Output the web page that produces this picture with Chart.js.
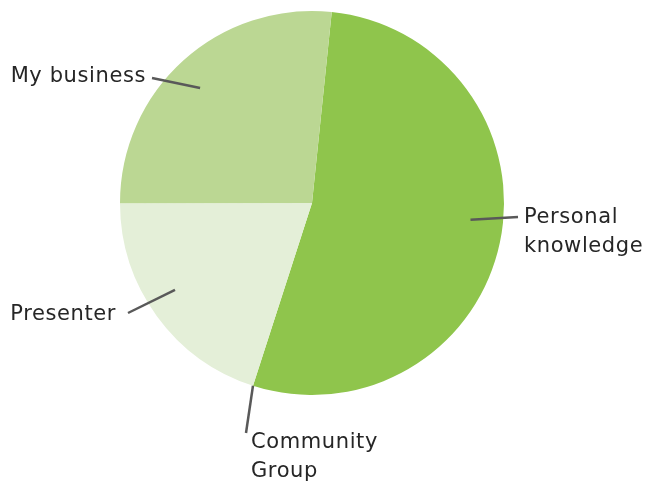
<!DOCTYPE html>
<html>
<head>
<meta charset="utf-8">
<script src="https://cdn.jsdelivr.net/npm/chart.js@4"></script>
<style>
  html, body { margin: 0; padding: 0; background: #fff; }
  #wrap { width: 657px; height: 484px; position: relative; }
</style>
</head>
<body>
<div id="wrap"><canvas id="pie"></canvas></div>
<script>
// slices in clockwise order, first one starts just right of 12 o'clock
const categories = ['Personal knowledge', 'Community Group', 'Presenter', 'My business'];
const counts = [8, 0, 3, 4];
const sliceColors = ['#8fc54c', '#8fc54c', '#e4efd8', '#bbd793'];

// label placement: leader start (degrees clockwise from top, fraction of radius),
// leader end and text anchor as offsets from the pie centre
const labelLayout = [
  { lines: ['Personal', 'knowledge'], at: [96, 0.83], end: [206, 14], text: [212, 15], align: 'left' },
  { lines: ['Community', 'Group'], at: null, end: [-66, 230], text: [-61, 240], align: 'left' },
  { lines: ['Presenter'], at: [237.6, 0.845], end: [-184, 110], text: [-196, 112], align: 'right' },
  { lines: ['My business'], at: [315.8, 0.836], end: [-160, -125], text: [-166, -126], align: 'right' }
];

const leaderLabels = {
  id: 'leaderLabels',
  afterDatasetsDraw(chart) {
    const ctx = chart.ctx;
    const arcs = chart.getDatasetMeta(0).data;
    ctx.save();
    ctx.font = '21px "DejaVu Sans", sans-serif';
    ctx.letterSpacing = '0.6px';
    ctx.textBaseline = 'middle';
    labelLayout.forEach((lab, i) => {
      const arc = arcs[i];
      const cx = arc.x, cy = arc.y, r = arc.outerRadius;
      let sx, sy;
      if (lab.at) {
        const a = (lab.at[0] - 90) * Math.PI / 180;
        sx = cx + Math.cos(a) * r * lab.at[1];
        sy = cy + Math.sin(a) * r * lab.at[1];
      } else {
        // zero-size slice: point at its position on the rim
        sx = cx + Math.cos(arc.startAngle) * r;
        sy = cy + Math.sin(arc.startAngle) * r;
      }
      ctx.beginPath();
      ctx.moveTo(sx, sy);
      ctx.lineTo(cx + lab.end[0], cy + lab.end[1]);
      ctx.lineWidth = 2.5;
      ctx.strokeStyle = '#595959';
      ctx.stroke();

      ctx.fillStyle = '#262626';
      ctx.textAlign = lab.align;
      lab.lines.forEach((line, k) => {
        ctx.fillText(line, cx + lab.text[0], cy + lab.text[1] + k * 28.5);
      });
    });
    ctx.restore();
  }
};

const ctx = document.getElementById('pie').getContext('2d');
new Chart(ctx, {
  type: 'pie',
  plugins: [leaderLabels],
  data: {
    labels: categories,
    datasets: [{
      data: counts,
      backgroundColor: sliceColors,
      borderWidth: 0
    }]
  },
  options: {
    responsive: true,
    maintainAspectRatio: false,
    animation: false,
    rotation: 5.9,
    layout: { padding: { top: 11, bottom: 89, left: 0, right: 33 } },
    plugins: {
      legend: { display: false },
      tooltip: { enabled: false }
    }
  }
});
</script>
</body>
</html>
